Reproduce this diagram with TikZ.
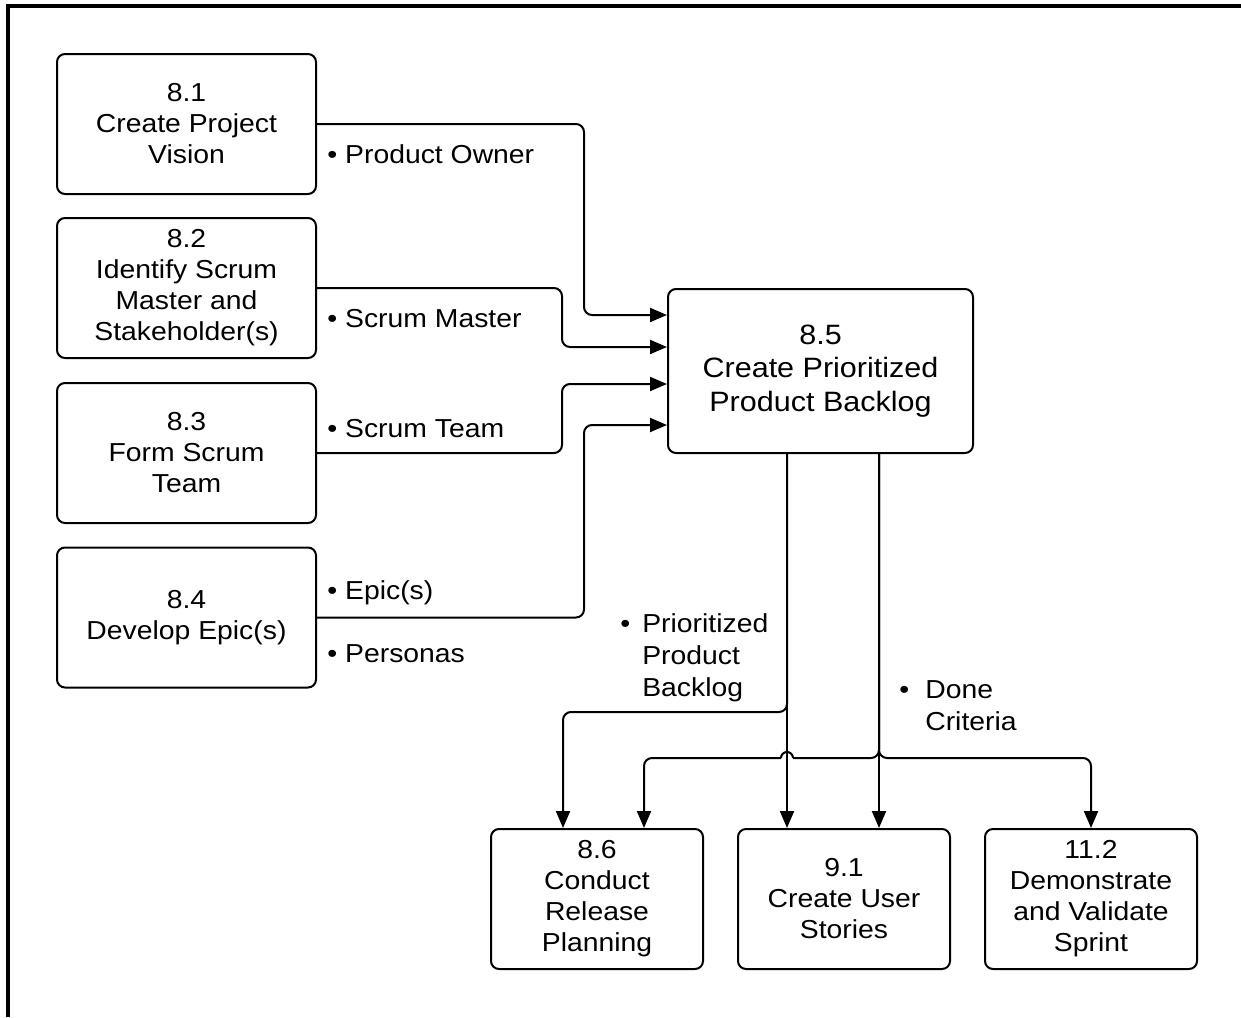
\documentclass[tikz,border=0pt]{standalone}
\usepackage{fontspec}
\setmainfont{Liberation Sans}[FakeStretch=1.09]
\usetikzlibrary{arrows.meta}
\begin{document}
\begin{tikzpicture}[x=0.5pt,y=-0.5pt,
  box/.style={draw, line width=1pt, rounded corners=4pt, align=center, inner sep=0pt, font=\fontsize{13}{15.5}\selectfont},
  smallbox/.style={box, minimum width=129.5pt, minimum height=70pt},
  outbox/.style={box, minimum width=106pt, minimum height=70pt},
  lbl/.style={inner sep=0pt, anchor=base west, font=\fontsize{13}{16}\selectfont},
  conn/.style={line width=1pt, rounded corners=4pt},
  arr/.style={conn, -{Triangle[length=8.5pt,width=7pt]}}]
\useasboundingbox (0,0) rectangle (1241,1017);
\draw[line width=2pt] (8,1017) -- (8,5.5) -- (1241,5.5);

\node[smallbox] (b81) at (186.5,124) {8.1\\Create Project\\Vision};
\node[smallbox] (b82) at (186.5,288) {8.2\\Identify Scrum\\Master and\\Stakeholder(s)};
\node[smallbox] (b83) at (186.5,453) {8.3\\Form Scrum\\Team};
\node[smallbox] (b84) at (186.5,617.5) {8.4\\Develop Epic(s)};
\node[box, minimum width=152.5pt, minimum height=82pt, font=\fontsize{14}{16.75}\selectfont] (b85) at (820.5,371) {8.5\\Create Prioritized\\Product Backlog};
\node[outbox] (b86) at (597,899) {8.6\\Conduct\\Release\\Planning};
\node[outbox] (b91) at (844,899) {9.1\\Create User\\Stories};
\node[outbox] (b112) at (1091,899) {11.2\\Demonstrate\\and Validate\\Sprint};

\coordinate (k1) at (584,315);
\coordinate (k2) at (562,347);
\coordinate (k3) at (562,384);
\coordinate (k4) at (584,425);
\draw[arr] (b81.east) -| (k1) -- (k1 -| b85.west);
\draw[arr] (b82.east) -| (k2) -- (k2 -| b85.west);
\draw[arr] (b83.east) -| (k3) -- (k3 -| b85.west);
\draw[arr] (b84.east) -| (k4) -- (k4 -| b85.west);

\coordinate (xa) at (787,0);
\coordinate (xb) at (879,0);
\coordinate (j1) at (563,712);
\coordinate (j2) at (644,758);
\coordinate (j3) at (1091,758);
\coordinate (ja) at (793,758);
\coordinate (jb) at (781,758);
\draw[arr] (b85.south -| xa) -- (b91.north -| xa);
\draw[arr] (b85.south -| xa) |- (j1) -- (b86.north -| j1);
\draw[arr] (b85.south -| xb) -- (b91.north -| xb);
\draw[arr] (b85.south -| xb) |- (j3) -- (b112.north);
\draw[conn] (b85.south -| xb) |- (ja);
\draw[line width=1pt] (ja) arc[start angle=0, end angle=180, radius=3pt];
\draw[arr] (jb) -- (j2) -- (b86.north -| j2);

\node[lbl] (l1) at (327,163) {• Product Owner};
\node[lbl] (l2) at (327,327) {• Scrum Master};
\node[lbl] (l3) at (327,437) {• Scrum Team};
\node[lbl] (l4) at (327,599) {• Epic(s)};
\node[lbl] (l5) at (327,662) {• Personas};
\node[lbl] (l6) at (620,632) {\begin{tabular}[t]{@{}l@{\hspace{6pt}}l@{}}•&Prioritized\\&Product\\&Backlog\end{tabular}};
\node[lbl] (l7) at (899,698) {\begin{tabular}[t]{@{}l@{\hspace{8pt}}l@{}}•&Done\\&Criteria\end{tabular}};
\end{tikzpicture}
\end{document}
